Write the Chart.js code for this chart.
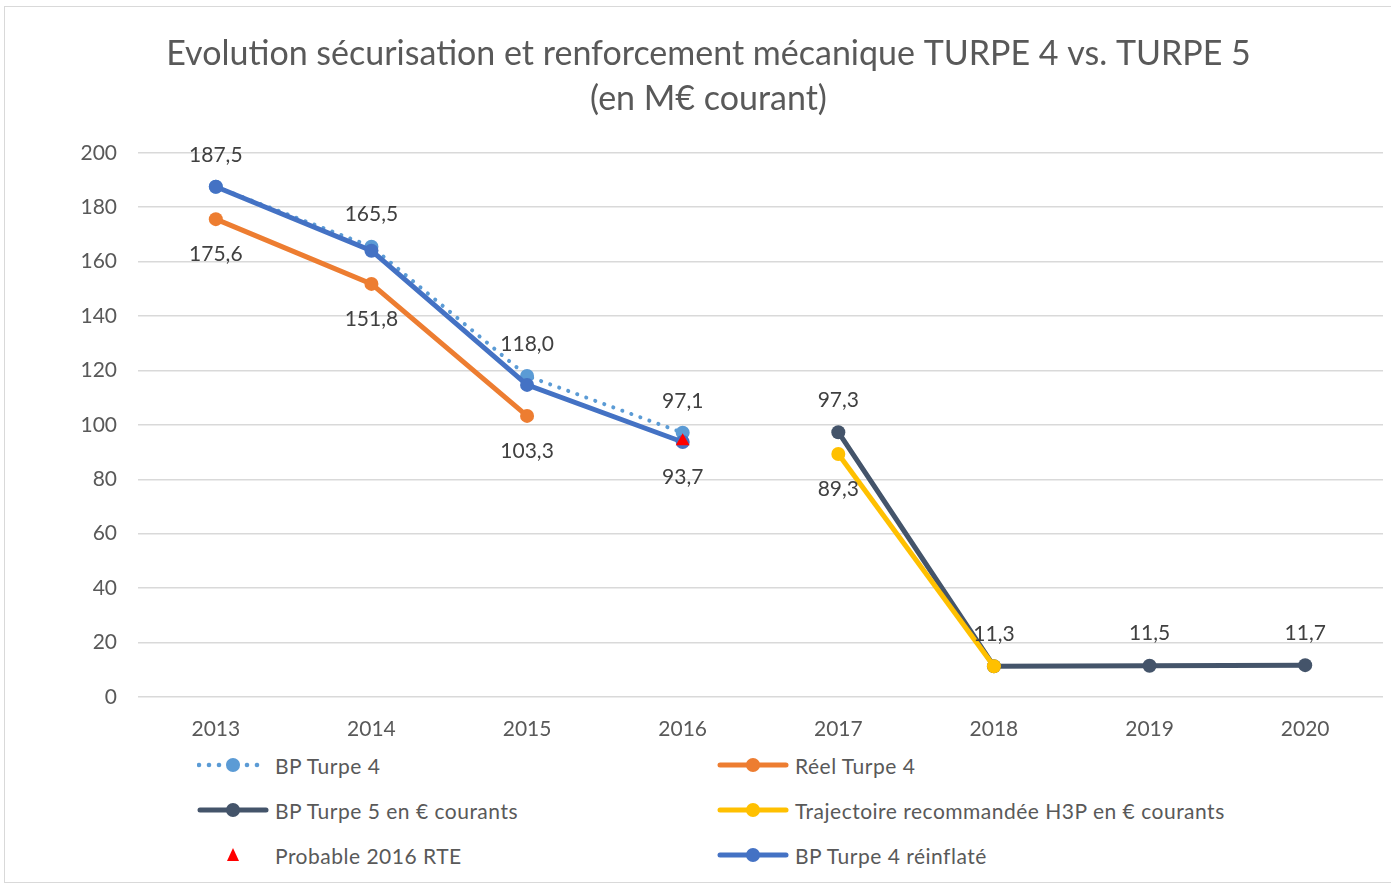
<!DOCTYPE html>
<html>
<head>
<meta charset="utf-8">
<script src="https://cdn.jsdelivr.net/npm/chart.js@4.4.1/dist/chart.umd.min.js"></script>
<style>
  body { margin: 0; background: #fff; overflow: hidden; font-family: Lato, sans-serif; }
  #frame { position: absolute; left: 4px; top: 6px; width: 1400px; height: 875px; border: 1px solid #d9d9d9; }
  #chartBox { position: absolute; left: 0; top: 0; }
  .item { position: absolute; display: flex; align-items: center; height: 30px; font-size: 21px; letter-spacing: 0.5px; color: #595959; white-space: nowrap; }
  .item svg { margin-right: 6px; }
</style>
</head>
<body>
<div id="frame"></div>
<canvas id="chartBox" width="1391" height="745"></canvas>
<div id="legend"></div>
<script>
// data
const years = ['2013', '2014', '2015', '2016', '2017', '2018', '2019', '2020'];
const bpTurpe4 = [187.5, 165.5, 118.0, 97.1, null, null, null, null];
const reelTurpe4 = [175.6, 151.8, 103.3, null, null, null, null, null];
const bpTurpe5 = [null, null, null, null, 97.3, 11.3, 11.5, 11.7];
const trajH3P = [null, null, null, null, 89.3, 11.3, null, null];
const probable2016 = [null, null, null, 94.0, null, null, null, null];
const bpTurpe4Reinfl = [187.5, 164.0, 114.7, 93.7, null, null, null, null];
const yMin = 0, yMax = 200, yStep = 20;

const names = ['BP Turpe 4', 'Réel Turpe 4', 'BP Turpe 5 en € courants',
  'Trajectoire recommandée H3P en € courants', 'Probable 2016 RTE', 'BP Turpe 4 réinflaté'];
const colors = ['#5B9BD5', '#ED7D31', '#44546A', '#FFC000', '#FF0000', '#4472C4'];

const valueLabels = {
  id: 'valueLabels',
  afterDatasetsDraw(chart, args, opts) {
    const ctx = chart.ctx;
    ctx.save();
    ctx.font = '21px Lato';
    ctx.fillStyle = '#404040';
    ctx.textAlign = 'center';
    ctx.textBaseline = 'middle';
    opts.items.forEach(it => {
      const meta = chart.getDatasetMeta(it.ds);
      const data = chart.data.datasets[it.ds].data;
      it.idx.forEach(i => {
        const p = meta.data[i];
        const y = it.pos === 'above' ? p.y - 32 : p.y + 35;
        ctx.fillText(data[i].toFixed(1).replace('.', ','), p.x, y);
      });
    });
    ctx.restore();
  }
};

function lineSet(i, data, order) {
  return {
    label: names[i], data: data, order: order,
    borderColor: colors[i], backgroundColor: colors[i],
    borderWidth: 5, pointRadius: 7, pointHoverRadius: 7,
    pointBorderWidth: 0, spanGaps: false, tension: 0
  };
}

const dsBp4 = lineSet(0, bpTurpe4, 5);
dsBp4.borderWidth = 4;
dsBp4.borderDash = [0.1, 9.5];
dsBp4.borderCapStyle = 'round';

const dsProb = {
  label: names[4], data: probable2016, order: 0,
  showLine: false, pointStyle: 'triangle', pointRadius: 8,
  borderColor: colors[4], backgroundColor: colors[4], pointBorderWidth: 0
};

new Chart(document.getElementById('chartBox'), {
  type: 'line',
  data: {
    labels: years,
    datasets: [
      dsBp4,
      lineSet(1, reelTurpe4, 4),
      lineSet(2, bpTurpe5, 3),
      lineSet(3, trajH3P, 2),
      dsProb,
      lineSet(5, bpTurpe4Reinfl, 1)
    ]
  },
  plugins: [valueLabels],
  options: {
    responsive: false,
    animation: false,
    layout: { padding: { left: 30, right: 4, top: 0, bottom: 0 } },
    plugins: {
      legend: { display: false },
      tooltip: { enabled: false },
      title: {
        display: true,
        text: ['Evolution sécurisation et renforcement mécanique TURPE 4 vs. TURPE 5', '(en M€ courant)'],
        color: '#595959',
        font: { family: 'Lato', size: 34, weight: 'normal', lineHeight: 1.32 },
        padding: { top: 31.5, bottom: 31.5 }
      },
      valueLabels: {
        items: [
          { ds: 0, idx: [0, 1, 2, 3], pos: 'above' },
          { ds: 1, idx: [0, 1, 2], pos: 'below' },
          { ds: 5, idx: [3], pos: 'below' },
          { ds: 2, idx: [4, 5, 6, 7], pos: 'above' },
          { ds: 3, idx: [4], pos: 'below' }
        ]
      }
    },
    scales: {
      x: {
        offset: true,
        grid: { display: false },
        border: { display: false },
        ticks: { color: '#595959', font: { family: 'Lato', size: 21 }, padding: 12 },
        afterFit: s => { s.height = 48; }
      },
      y: {
        min: yMin, max: yMax,
        grid: { color: '#d9d9d9', lineWidth: 1.5, drawTicks: false },
        border: { display: false },
        ticks: { stepSize: yStep, color: '#595959', font: { family: 'Lato', size: 21 }, padding: 21 },
        afterFit: s => { s.width = 108; }
      }
    }
  }
});

// legend in two columns, built from the same names and colours
const legendRows = [765, 810, 855];
const legendCols = [197, 717];
function symbolSvg(i) {
  const c = colors[i];
  if (i === 4) {
    return '<svg width="72" height="20"><polygon points="36,3 42,16 30,16" fill="' + c + '"/></svg>';
  }
  if (i === 0) {
    let dots = '';
    [2, 12, 22, 50, 60].forEach(x => { dots += '<circle cx="' + x + '" cy="10" r="2.3" fill="' + c + '"/>'; });
    return '<svg width="72" height="20">' + dots + '<circle cx="36" cy="10" r="7" fill="' + c + '"/></svg>';
  }
  return '<svg width="72" height="20"><line x1="3" y1="10" x2="69" y2="10" stroke="' + c +
    '" stroke-width="5" stroke-linecap="round"/><circle cx="36" cy="10" r="7" fill="' + c + '"/></svg>';
}
const legend = document.getElementById('legend');
names.forEach((n, i) => {
  const el = document.createElement('div');
  el.className = 'item';
  el.style.left = legendCols[i % 2] + 'px';
  el.style.top = (legendRows[Math.floor(i / 2)] - 15) + 'px';
  el.innerHTML = symbolSvg(i) + '<span>' + n + '</span>';
  legend.appendChild(el);
});
</script>
</body>
</html>
